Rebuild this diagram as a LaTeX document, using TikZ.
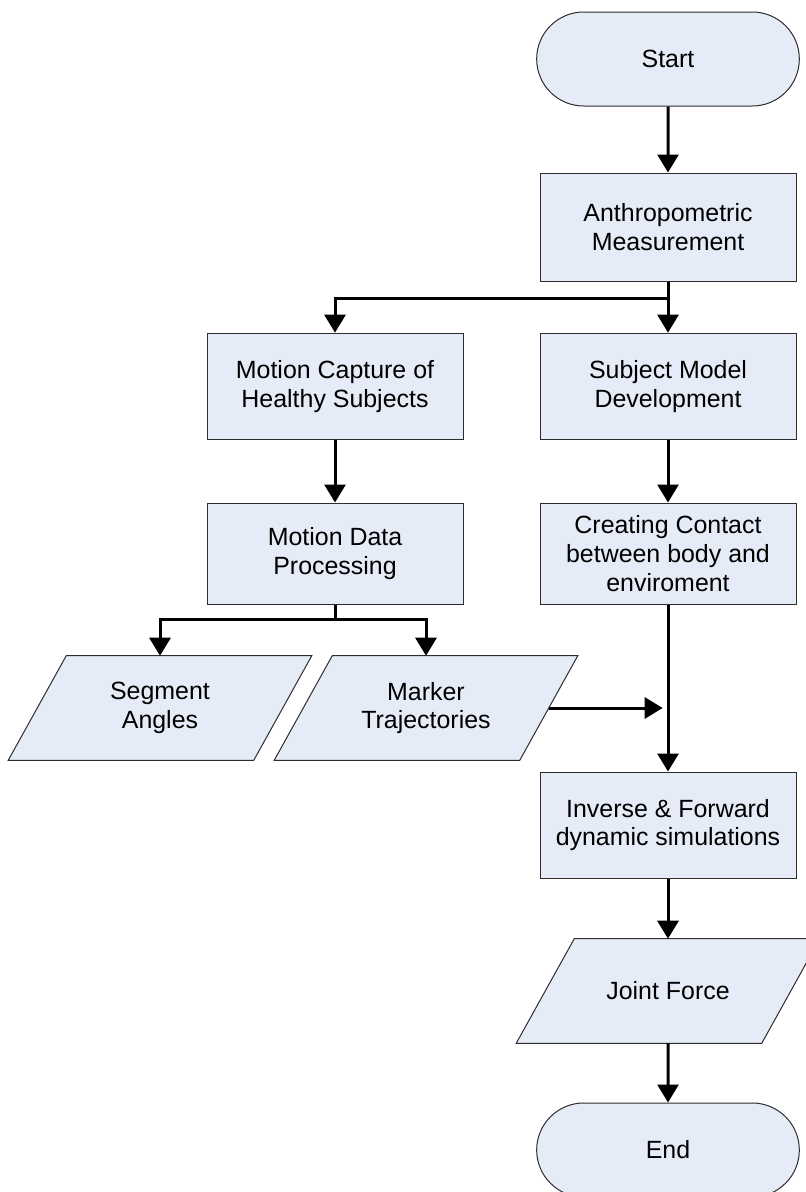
\documentclass[tikz,border=0pt]{standalone}
\usepackage{fontspec}
\setmainfont{Liberation Sans}
\usetikzlibrary{shapes.misc,arrows.meta,backgrounds}
\definecolor{boxfill}{RGB}{230,236,247}
\definecolor{boxline}{RGB}{45,45,45}

\begin{document}
\begin{tikzpicture}[x=0.75pt,y=0.75pt,yscale=-1,xscale=1,
  procbox/.style={rectangle, draw=boxline, line width=0.75pt, fill=boxfill,
    minimum width=192pt, minimum height=80pt, inner sep=0pt, align=center,
    font=\fontsize{18.7}{21.5}\selectfont},
  termbox/.style={procbox, rounded rectangle, minimum width=197pt, minimum height=70.5pt},
  databox/.style={rectangle, minimum width=183.75pt, minimum height=78pt, inner sep=0pt,
    align=center, font=\fontsize{18.7}{21.5}\selectfont},
  datashape/.style={draw=boxline, line width=0.75pt, fill=boxfill},
  flow/.style={line width=2.25pt, -{Triangle[length=13.5pt,width=15.75pt]}}]
%set diagram size: 806 x 1192
\clip (0,0) rectangle (806,1192);

%Terminal: start
\node [termbox] (start) at (668,59) {Start};
%Process: anthropometric
\node [procbox, minimum height=81pt] (anthro) at (668,227) {Anthropometric\\Measurement};
%Process: motion capture
\node [procbox] (mocap) at (335,386.5) {Motion Capture of\\Healthy Subjects};
%Process: subject model
\node [procbox] (subj) at (668,386.5) {Subject Model\\Development};
%Process: motion data
\node [procbox, minimum height=75.75pt] (mdata) at (335,553.5) {Motion Data\\Processing};
%Process: contact
\node [procbox, minimum height=75.75pt] (contact) at (668,553.5) {Creating Contact\\between body and\\enviroment};
%Data: segment angles
\node [databox] (seg) at (160,708) {Segment\\Angles};
%Data: marker trajectories
\node [databox] (marker) at (426,708) {Marker\\Trajectories};
%Process: simulations
\node [procbox, minimum height=79.5pt] (sim) at (668,825) {Inverse \& Forward\\dynamic simulations};
%Data: joint force
\node [databox] (joint) at (668,991) {Joint Force};
%Terminal: end
\node [termbox] (stop) at (668,1150) {End};

%Parallelograms behind the data nodes
\begin{scope}[on background layer]
\foreach \n in {seg,marker,joint}
  \draw [datashape] ([xshift=21.75pt]\n.north west) -- ([xshift=21.75pt]\n.north east)
    -- ([xshift=-21.75pt]\n.south east) -- ([xshift=-21.75pt]\n.south west) -- cycle;
\end{scope}

%Connectors
\draw [flow] (start) -- (anthro);
\draw [flow] (anthro.south) -- (subj.north);
\draw [flow] (anthro.south) -- ++(0,17) -| (mocap.north);
\draw [flow] (mocap) -- (mdata);
\draw [flow] (subj) -- (contact);
\draw [flow] (mdata.south) -- ++(0,15) -| (seg.north);
\draw [flow] (mdata.south) -- ++(0,15) -| (marker.north);
\draw [flow] (contact) -- (sim);
\draw [flow, shorten >=4pt] (marker.east) -- (marker.east -| contact.south);
\draw [flow] (sim) -- (joint);
\draw [flow] (joint) -- (stop);

\end{tikzpicture}
\end{document}
